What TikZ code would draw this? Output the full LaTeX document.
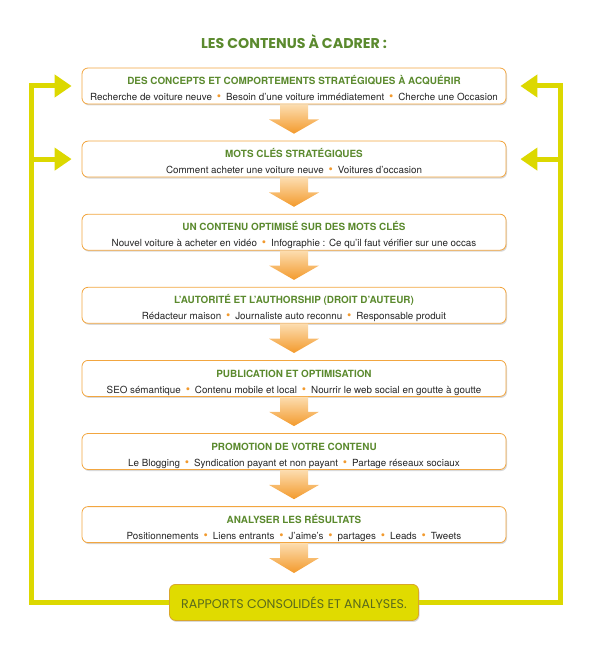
\documentclass[tikz,border=0pt]{standalone}
\usepackage{fontspec}
\setsansfont{TeX Gyre Heros}
\newfontfamily\geofont{Poppins}
\usetikzlibrary{positioning,shadows,arrows.meta}

\definecolor{headgreen}{HTML}{5B8A2E}
\definecolor{boxorange}{HTML}{F2A640}
\definecolor{dotorange}{HTML}{F29A2E}
\definecolor{loopyellow}{HTML}{DCD800}
\definecolor{arrowlight}{HTML}{FCDDB0}
\definecolor{arrowdark}{HTML}{F39A2C}
\definecolor{rapfill}{HTML}{E0DB00}
\definecolor{rapdraw}{HTML}{D9A72A}
\definecolor{raptext}{HTML}{5A6B1C}

\newcommand{\bul}{\enspace{\color{dotorange}\scalebox{1.25}{\textbullet}}\enspace}
\newcommand{\stagehead}[1]{{\bfseries\fontsize{9.9}{16}\selectfont\color{headgreen}\rule{0pt}{16.6pt}#1}}
\newcommand{\stageitems}[1]{\rule[-3.4pt]{0pt}{3.4pt}#1}

\tikzset{
  stage/.style={draw=boxorange, line width=0.8pt, rounded corners=6pt, fill=white,
    minimum width=424pt, minimum height=36pt, inner sep=0pt, align=center,
    text=black!85, font=\sffamily\fontsize{9.8}{16}\selectfont,
    drop shadow={shadow xshift=1pt, shadow yshift=-1.5pt, opacity=0.3}},
  report/.style={draw=rapdraw, line width=0.8pt, rounded corners=6pt, fill=rapfill,
    minimum width=249pt, minimum height=36pt, inner sep=0pt, text=raptext,
    font=\geofont\fontsize{12.6}{14}\selectfont,
    drop shadow={shadow xshift=1pt, shadow yshift=-1.5pt, opacity=0.3}},
  feedback/.style={draw=loopyellow, line width=5pt, -{Triangle[length=17pt,width=22pt]}},
  flow/.style={top color=arrowlight, bottom color=arrowdark}
}

\begin{document}
\begin{tikzpicture}[x=1pt, y=-1pt, node distance=36.3pt]
\useasboundingbox (0,0) rectangle (600,652);

% title
\node[font=\geofont\bfseries\fontsize{14.2}{16}\selectfont, text=headgreen] (title) at (294,42) {LES CONTENUS À CADRER :};

% stages
\node[stage] (s1) at (294,86) {\stagehead{DES CONCEPTS ET COMPORTEMENTS STRATÉGIQUES À ACQUÉRIR}\\
  \stageitems{Recherche de voiture neuve\bul Besoin d’une voiture immédiatement\bul Cherche une Occasion}};
\node[stage, below=of s1] (s2) {\stagehead{MOTS CLÉS STRATÉGIQUES}\\
  \stageitems{Comment acheter une voiture neuve\bul Voitures d’occasion}};
\node[stage, below=of s2] (s3) {\stagehead{UN CONTENU OPTIMISÉ SUR DES MOTS CLÉS}\\
  \stageitems{Nouvel voiture à acheter en vidéo\bul Infographie : Ce qu’il faut vérifier sur une occas}};
\node[stage, below=of s3] (s4) {\stagehead{L’AUTORITÉ ET L’AUTHORSHIP (DROIT D’AUTEUR)}\\
  \stageitems{Rédacteur maison\bul Journaliste auto reconnu\bul Responsable produit}};
\node[stage, below=of s4] (s5) {\stagehead{PUBLICATION ET OPTIMISATION}\\
  \stageitems{SEO sémantique\bul Contenu mobile et local\bul Nourrir le web social en goutte à goutte}};
\node[stage, below=of s5] (s6) {\stagehead{PROMOTION DE VOTRE CONTENU}\\
  \stageitems{Le Blogging\bul Syndication payant et non payant\bul Partage réseaux sociaux}};
\node[stage, below=of s6] (s7) {\stagehead{ANALYSER LES RÉSULTATS}\\
  \stageitems{Positionnements\bul Liens entrants\bul J’aime’s\bul partages\bul Leads\bul Tweets}};
\node[report, below=41pt of s7] (rap) {RAPPORTS CONSOLIDÉS ET ANALYSES.};

% down arrows
\foreach \a/\b/\g in {s1/s2/7, s2/s3/7, s3/s4/7, s4/s5/7, s5/s6/7, s6/s7/7, s7/rap/11}{
  \shade[flow] ([xshift=-14pt]\a.south) -- ([xshift=-14pt,yshift=-15pt]\a.south)
    -- ([xshift=-25pt,yshift=-15pt]\a.south) -- ([yshift=\g pt]\b.north)
    -- ([xshift=25pt,yshift=-15pt]\a.south) -- ([xshift=14pt,yshift=-15pt]\a.south)
    -- ([xshift=14pt]\a.south) -- cycle;
}

% feedback loop
\coordinate (loopL) at (31.5,600);
\coordinate (loopR) at (560,600);
\draw[feedback] (rap.west) -| (loopL |- s1.west) -- ([xshift=-10pt]s1.west);
\draw[feedback] (loopL |- s2.west) -- ([xshift=-10pt]s2.west);
\draw[feedback] (rap.east) -| (loopR |- s1.east) -- ([xshift=14pt]s1.east);
\draw[feedback] (loopR |- s2.east) -- ([xshift=14pt]s2.east);

\end{tikzpicture}
\end{document}
